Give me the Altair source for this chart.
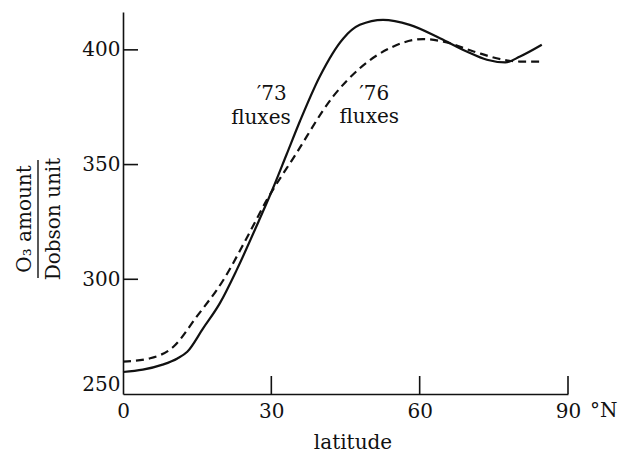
import altair as alt
import pandas as pd

# Ozone column (Dobson units) against latitude for the two flux sets
lat_73 = [0, 4, 8, 11, 13, 16.2, 19.6, 23.0, 27.4, 30.4, 33.1, 35.8, 39.8, 44.6,
          47.9, 52.6, 58.0, 64.1, 69.5, 73.6, 77.3, 80.3, 84.7]
o3_73 = [259.6, 260.6, 262.8, 265.5, 268.4, 278.6, 289.6, 304.1, 325.1, 340.0,
         354.5, 369.0, 388.4, 405.1, 410.9, 413.1, 410.9, 405.1, 399.3, 395.7,
         394.5, 397.1, 402.2]

lat_76 = [0, 5.5, 10.2, 14.9, 20.3, 25.0, 29.1, 34.8, 42.5, 47.9, 54.0,
          60.7, 64.8, 70.9, 76.9, 80.3, 84.7]
o3_76 = [264.1, 265.6, 270.6, 283.7, 299.7, 317.9, 334.6, 354.0, 379.7,
         392.0, 400.8, 404.7, 403.6, 399.3, 395.7, 394.9, 394.9]

x_tick_values = [0, 30, 60, 90]
y_tick_values = [250, 300, 350, 400]
x_inner_ticks = [30, 60, 90]
y_inner_ticks = [300, 350, 400]

# Curve annotations (one row per text line)
note_text = ["\u203273", "fluxes", "\u203276", "fluxes"]
note_lat = [30.1, 27.9, 50.8, 49.8]
note_o3 = [380.8, 370.4, 380.8, 370.8]

W, H = 445, 382
FONT = "DejaVu Serif"
INK = "#111111"

df73 = pd.DataFrame({"lat": lat_73, "o3": o3_73})
df76 = pd.DataFrame({"lat": lat_76, "o3": o3_76})
notes = pd.DataFrame({"lat": note_lat, "o3": note_o3, "text": note_text})

x_scale = alt.Scale(domain=[0, 90], nice=False, zero=False)
y_scale = alt.Scale(domain=[250, 416.5], nice=False, zero=False)

x_axis = alt.Axis(
    values=x_tick_values, format="d", ticks=False, tickSize=0, grid=False,
    domainColor=INK, domainWidth=1.6,
    labelFont=FONT, labelFontSize=20, labelColor=INK, labelPadding=7,
    labelAngle=0, labelFlush=False,
    title="latitude", titleFont=FONT, titleFontSize=20, titleFontWeight="normal",
    titleColor=INK, titlePadding=11, titleX=W / 2 + 7,
)
y_axis = alt.Axis(
    values=y_tick_values, format="d", ticks=False, tickSize=0, grid=False,
    domainColor=INK, domainWidth=1.6,
    labelFont=FONT, labelFontSize=20, labelColor=INK, labelPadding=3,
    labelFlush=True, title="",
)


def xq():
    return alt.X("lat:Q", scale=x_scale, axis=x_axis)


def yq():
    return alt.Y("o3:Q", scale=y_scale, axis=y_axis)


solid = alt.Chart(df73).mark_line(
    color=INK, strokeWidth=2.2, interpolate="monotone"
).encode(x=xq(), y=yq())

dashed = alt.Chart(df76).mark_line(
    color=INK, strokeWidth=2.2, strokeDash=[8, 5], interpolate="monotone"
).encode(x=xq(), y=yq())

# Inward-pointing tick marks
x_ticks = alt.Chart(pd.DataFrame({"lat": x_inner_ticks})).mark_rule(
    color=INK, strokeWidth=1.6
).encode(x=xq(), y=alt.value(H), y2=alt.value(H - 18))

y_ticks = alt.Chart(pd.DataFrame({"o3": y_inner_ticks})).mark_rule(
    color=INK, strokeWidth=1.6
).encode(y=yq(), x=alt.value(0), x2=alt.value(15))

labels = alt.Chart(notes).mark_text(
    font=FONT, fontSize=20, color=INK, align="center", baseline="middle"
).encode(x=xq(), y=yq(), text="text:N")

# "°N" unit next to the last latitude label
unit = alt.Chart(pd.DataFrame({"t": ["\u00b0N"]})).mark_text(
    font=FONT, fontSize=20, color=INK, align="left", baseline="top"
).encode(text="t:N", x=alt.value(W + 22), y=alt.value(H + 7))

# Y-axis title as a fraction: O3 amount over Dobson unit
num = alt.Chart(pd.DataFrame({"t": ["O\u2083 amount"]})).mark_text(
    font=FONT, fontSize=20, color=INK, angle=270, align="center",
    baseline="alphabetic"
).encode(text="t:N", x=alt.value(-92), y=alt.value(207))
den = alt.Chart(pd.DataFrame({"t": ["Dobson unit"]})).mark_text(
    font=FONT, fontSize=20, color=INK, angle=270, align="center",
    baseline="alphabetic"
).encode(text="t:N", x=alt.value(-63), y=alt.value(207))
bar = alt.Chart(pd.DataFrame({"t": [0]})).mark_rule(
    color=INK, strokeWidth=1.4
).encode(x=alt.value(-85), y=alt.value(148), y2=alt.value(266))

chart = alt.layer(
    solid, dashed, x_ticks, y_ticks, labels, unit, num, den, bar
).properties(
    width=W, height=H,
    autosize=alt.AutoSizeParams(type="none"),
    padding={"left": 123, "top": 12, "right": 51, "bottom": 62},
    background="white",
).configure_view(stroke=None)

chart.save("out.html", embed_options={"renderer": "svg", "actions": False})
